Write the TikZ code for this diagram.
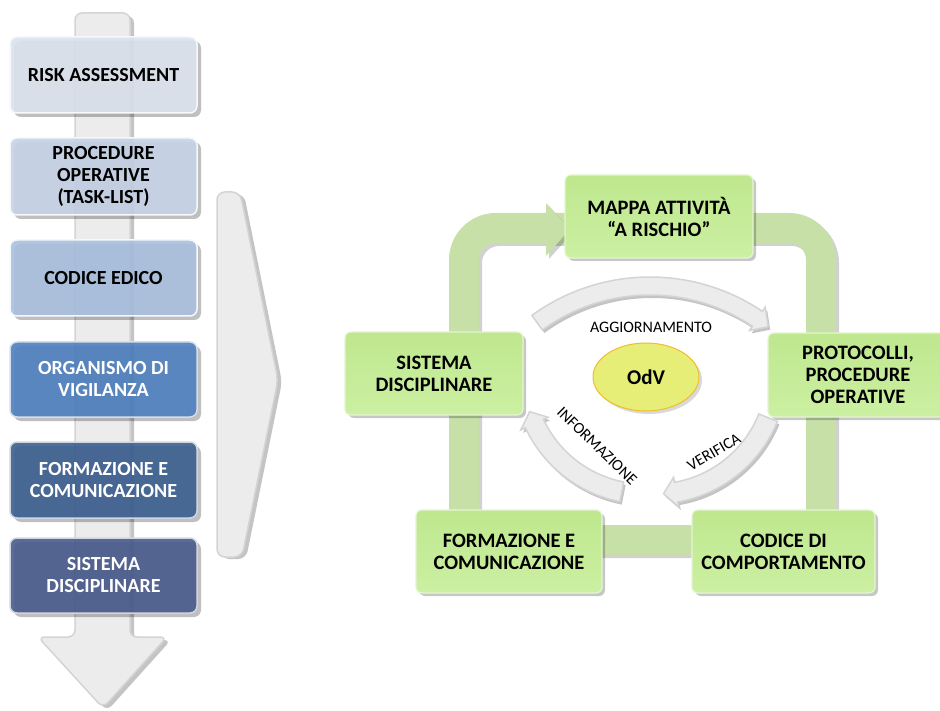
\documentclass[tikz,border=0pt]{standalone}
\usepackage{fontspec}
\setmainfont{Carlito}
\usetikzlibrary{shapes.geometric,shadows}
\definecolor{lb1}{HTML}{DCE3EE}
\definecolor{lb2}{HTML}{C6D3E6}
\definecolor{lb3}{HTML}{A9C0DF}
\definecolor{lb4}{HTML}{4F80C0}
\definecolor{lb5}{HTML}{3C5F90}
\definecolor{lb6}{HTML}{495B8D}
\definecolor{greyfill}{HTML}{ECECEC}
\definecolor{greyedge}{HTML}{D4D4D4}
\definecolor{greyshadow}{HTML}{C4C4C4}
\definecolor{gband}{HTML}{C7E0A8}
\definecolor{gtop}{HTML}{BFE78E}
\definecolor{gbot}{HTML}{CBF0A2}
\definecolor{odvfill}{HTML}{E7EE78}
\definecolor{odvedge}{HTML}{F0BE28}
\newcommand\curvarr[8]{% cx, cy, r, hw, start, headbase, tip, style
  \path[#8] ([shift={(#1,#2)}]#5:{#3+#4}) arc[start angle=#5, end angle=#6, radius={#3+#4}]
    -- ([shift={(#1,#2)}]#6:{#3+#4+5}) -- ([shift={(#1,#2)}]#7:#3)
    -- ([shift={(#1,#2)}]#6:{#3-#4-5}) -- ([shift={(#1,#2)}]#6:{#3-#4})
    arc[start angle=#6, end angle=#5, radius={#3-#4}] -- cycle;}
\begin{document}
\begin{tikzpicture}[x=1pt,y=-1pt,
  lbox/.style={draw=white!75!lb1, line width=1.5pt, rounded corners=7pt,
    minimum width=187pt, align=center, inner sep=0pt, fill opacity=0.9, text opacity=1,
    font=\bfseries\fontsize{20}{22}\selectfont,
    drop shadow={shadow xshift=4pt, shadow yshift=-4pt, fill=black, opacity=0.25}},
  gbox/.style={draw=white!60!gtop, line width=1.2pt, rounded corners=6pt,
    top color=gtop, bottom color=gbot, align=center, inner sep=0pt,
    font=\bfseries\fontsize{20.5}{22}\selectfont,
    drop shadow={shadow xshift=3pt, shadow yshift=-3pt, fill=black, opacity=0.22}},
  greyshape/.style={fill=greyfill, draw=greyedge, line width=1.5pt},
  greyshade/.style={fill=greyshadow, draw=none},
  arclabel/.style={font=\fontsize{16}{18}\selectfont, inner sep=0pt}
]
\useasboundingbox (0,0) rectangle (940,711);
\fill[white] (0,0) rectangle (940,711);

% vertical downward arrow (left)
\path[greyshade, rounded corners=7pt, xshift=4pt, yshift=-3pt]
  (75,13) -- (130,13) -- (130,637) -- (167,637) -- (103,708) -- (38,637) -- (75,637) -- cycle;
\path[greyshape, rounded corners=7pt]
  (75,13) -- (130,13) -- (130,637) -- (167,637) -- (103,708) -- (38,637) -- (75,637) -- cycle;

% left boxes
\node[lbox, fill=lb1, minimum height=76pt] (b1) at (103.5,75) {RISK ASSESSMENT};
\node[lbox, fill=lb2, minimum height=77pt] (b2) at (103.5,176.5) {PROCEDURE\\OPERATIVE\\(TASK-LIST)};
\node[lbox, fill=lb3, minimum height=76pt] (b3) at (103.5,278) {CODICE EDICO};
\node[lbox, fill=lb4, draw=white!75!lb4, minimum height=75pt, text=white] (b4) at (103.5,379.5) {ORGANISMO DI\\VIGILANZA};
\node[lbox, fill=lb5, draw=white!75!lb5, minimum height=76pt, text=white] (b5) at (103.5,480) {FORMAZIONE E\\COMUNICAZIONE};
\node[lbox, fill=lb6, draw=white!75!lb6, minimum height=75pt, text=white] (b6) at (103.5,575.5) {SISTEMA\\DISCIPLINARE};

% big chevron
\path[greyshade, rounded corners=8pt, xshift=4pt, yshift=-2pt]
  (217,192) -- (240,192) -- (278,380) -- (242,557) -- (217,557) -- cycle;
\path[greyshape, rounded corners=8pt]
  (217,192) -- (240,192) -- (278,380) -- (242,557) -- (217,557) -- cycle;

% green loop
\draw[line width=30pt, color=black, opacity=0.18, rounded corners=32pt, xshift=3pt, yshift=-3pt]
  (464,540) -- (464,228) -- (821,228) -- (821,540) -- cycle;
\draw[line width=30pt, color=gband, rounded corners=32pt]
  (464,540) -- (464,228) -- (821,228) -- (821,540) -- cycle;
\fill[black, opacity=0.18, xshift=3pt, yshift=-3pt] (546,203) -- (570,229) -- (546,256) -- cycle;
\fill[gband] (546,203) -- (570,229) -- (546,256) -- cycle;

% green boxes
\node[gbox, minimum width=188pt, minimum height=83pt] (mappa) at (659,216.5) {MAPPA ATTIVITÀ\\“A RISCHIO”};
\node[gbox, minimum width=178pt, minimum height=83pt] (sist) at (434,373.5) {SISTEMA\\DISCIPLINARE};
\node[gbox, minimum width=180pt, minimum height=84pt] (prot) at (858,375) {PROTOCOLLI,\\PROCEDURE\\OPERATIVE};
\node[gbox, minimum width=183pt, minimum height=83pt] (cod) at (783.5,551.5) {CODICE DI\\COMPORTAMENTO};
\node[gbox, minimum width=186pt, minimum height=83pt] (form) at (509,551.5) {FORMAZIONE E\\COMUNICAZIONE};

% central circular arrows
\begin{scope}[xshift=2pt, yshift=-3pt]
\curvarr{650}{478}{192}{9}{-126}{-56}{-52}{greyshade}
\curvarr{655}{372}{122}{10}{22}{80}{86}{greyshade}
\curvarr{645}{372}{122}{10}{101}{155}{161}{greyshade}
\end{scope}
\curvarr{650}{478}{192}{9}{-126}{-56}{-52}{greyshape}
\curvarr{655}{372}{122}{10}{22}{80}{86}{greyshape}
\curvarr{645}{372}{122}{10}{101}{155}{161}{greyshape}

\node[arclabel] (agg) at (651,327) {AGGIORNAMENTO};
\node[arclabel, rotate=-44] (inf) at (597,446) {INFORMAZIONE};
\node[arclabel, rotate=30] (ver) at (714,452) {VERIFICA};

% OdV
\node[ellipse, fill=odvfill, draw=odvedge, line width=1pt, minimum width=106pt, minimum height=68pt,
  font=\bfseries\fontsize{21}{24}\selectfont,
  drop shadow={shadow xshift=3pt, shadow yshift=-3pt, fill=black, opacity=0.15}] (odv) at (646,377) {OdV};
\end{tikzpicture}
\end{document}
